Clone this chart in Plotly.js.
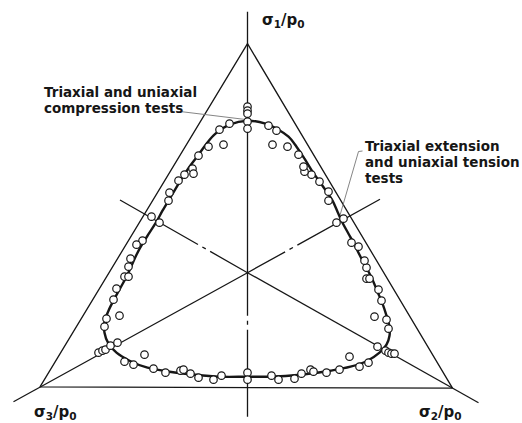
<!DOCTYPE html>
<html>
<head>
<meta charset="utf-8">
<script src="https://cdn.plot.ly/plotly-3.0.1.min.js"></script>
<style>
  html, body { margin: 0; padding: 0; background: #fff; }
  #plot { width: 522px; height: 423px; }
</style>
</head>
<body>
<div id="plot"></div>
<script>
// Octahedral (pi) plane: origin on the hydrostatic axis, y along the sigma1 projection.

// Test results (open circles)
const testX = [
  0, 0, 0, 0, 0,
  -0.18, -0.28, -0.24, -0.39, -0.49, -0.55, -0.54, -0.63, -0.69, -0.78, -0.79,
  -0.96, -0.88, -1.05, -1.11, -1.17, -1.19, -1.23, -1.19, -1.31, -1.34, -1.28, -1.41, -1.43,
  -1.49, -1.45, -1.42, -1.37, -1.30, -1.03, -1.23, -1.14, -0.94, -0.82, -0.67, -0.64, -0.57, -0.49, -0.34, -0.26,
  0, 0,
  0.24, 0.31, 0.47, 0.54, 0.63, 0.66, 0.79, 0.92, 1.02, 1.12, 1.21, 1.30, 1.38, 1.41, 1.44, 1.47,
  1.41, 1.39, 1.27, 1.34, 1.31, 1.19, 1.22, 1.19, 1.17, 1.11, 1.04, 0.96, 0.89,
  0.81, 0.81, 0.72, 0.64, 0.57, 0.56, 0.51, 0.40, 0.25, 0.29, 0.21
];
const testY = [
  1.66, 1.62, 1.59, 1.51, 1.44,
  1.49, 1.43, 1.28, 1.26, 1.17, 1.04, 0.99, 0.98, 0.92, 0.80, 0.72,
  0.56, 0.50, 0.32, 0.28, 0.14, 0.06, -0.04, -0.04, -0.16, -0.27, -0.43, -0.46, -0.54,
  -0.80, -0.78, -0.77, -0.73, -0.70, -0.82, -0.89, -0.92, -0.96, -1.00, -0.98, -0.97, -1.01, -1.05, -1.07, -1.03,
  -1.00, -1.07,
  -1.03, -1.07, -1.06, -1.01, -0.97, -0.99, -1.00, -0.97, -0.84, -0.94, -0.90, -0.74, -0.78, -0.80, -0.81, -0.81,
  -0.56, -0.47, -0.44, -0.28, -0.17, -0.06, -0.06, 0.05, 0.12, 0.26, 0.30, 0.54, 0.50,
  0.72, 0.81, 0.91, 0.98, 1.01, 1.06, 1.18, 1.26, 1.28, 1.42, 1.47
];

// Failure surface trace in the pi plane
const surfX = [
  0, 0.18, 0.31, 0.41, 0.49, 0.57, 0.65, 0.75, 0.85, 0.90, 0.95, 1.01, 1.07, 1.13, 1.19, 1.25,
  1.30, 1.35, 1.39, 1.42, 1.42, 1.39, 1.32, 1.20, 1.03, 0.83, 0.53, 0.23, 0,
  -0.28, -0.53, -0.78, -1.00, -1.18, -1.31, -1.39, -1.43, -1.43, -1.39, -1.33, -1.27, -1.21,
  -1.16, -1.11, -1.05, -0.98, -0.91, -0.85, -0.76, -0.67, -0.58, -0.49, -0.41, -0.32, -0.18, 0
];
const surfY = [
  1.52, 1.49, 1.43, 1.36, 1.26, 1.14, 1.01, 0.87, 0.72, 0.61, 0.50, 0.39, 0.28, 0.16, 0.05, -0.07,
  -0.19, -0.31, -0.43, -0.54, -0.63, -0.72, -0.80, -0.88, -0.94, -0.98, -1.02, -1.04, -1.04,
  -1.04, -1.02, -0.99, -0.95, -0.88, -0.80, -0.71, -0.60, -0.49, -0.38, -0.26, -0.15, -0.04,
  0.07, 0.18, 0.29, 0.40, 0.51, 0.62, 0.77, 0.92, 1.06, 1.18, 1.29, 1.39, 1.48, 1.52
];

// Triangle joining the principal-stress axis tips
const triX = [0, 2.05, -2.075, 0];
const triY = [2.29, -1.155, -1.142, 2.29];

// Principal stress axes (solid) and their negative directions (chain lines)
const axisSolid = [
  { x: [0, 0], y: [0, 2.61] },
  { x: [0, 2.31], y: [0, -1.30] },
  { x: [0, -2.34], y: [0, -1.29] }
];
const axisChain = [
  { x: [0, 0], y: [0, -1.44] },
  { x: [0, -1.275], y: [0, 0.727] },
  { x: [0, 1.325], y: [0, 0.734] }
];

// Leader lines for the notes
const leadCompX = [-0.658, -0.035];
const leadCompY = [1.61, 1.534];
const leadExtX = [1.15, 1.11, 0.92];
const leadExtY = [1.217, 1.212, 0.557];

// Note texts, one entry per line
const noteComp = ['Triaxial and uniaxial', 'compression tests'];
const noteCompY = [1.812, 1.647];
const noteExt = ['Triaxial extension', 'and uniaxial tension', 'tests'];
const noteExtY = [1.267, 1.107, 0.947];

const ink = '#161616';
const traces = [];

traces.push({ x: triX, y: triY, mode: 'lines', line: { color: ink, width: 1.3 }, hoverinfo: 'skip' });
axisSolid.forEach(a => traces.push({ x: a.x, y: a.y, mode: 'lines', line: { color: ink, width: 1.3 }, hoverinfo: 'skip' }));
axisChain.forEach(a => traces.push({ x: a.x, y: a.y, mode: 'lines',
  line: { color: ink, width: 1.3, dash: '43px,5px,4px,5px,400px' }, hoverinfo: 'skip' }));
traces.push({ x: leadCompX, y: leadCompY, mode: 'lines', line: { color: '#777', width: 0.9 }, hoverinfo: 'skip' });
traces.push({ x: leadExtX, y: leadExtY, mode: 'lines', line: { color: '#777', width: 0.9 }, hoverinfo: 'skip' });
traces.push({ x: surfX, y: surfY, mode: 'lines', line: { color: ink, width: 2.4, shape: 'spline', smoothing: 1 }, hoverinfo: 'skip' });
traces.push({ x: testX, y: testY, mode: 'markers',
  marker: { symbol: 'circle', size: 7.5, color: '#fff', line: { color: ink, width: 1.2 } } });

const labelFont = { family: 'DejaVu Sans, sans-serif', size: 13.5, color: ink, weight: 'bold' };
const axisFont = { family: 'DejaVu Sans, sans-serif', size: 15, color: ink, weight: 'bold' };

const annotations = [
  { x: 0.125, y: 2.52, xanchor: 'left', yanchor: 'middle', showarrow: false,
    text: 'σ<sub>1</sub>/p<sub>0</sub>', font: axisFont },
  { x: -2.16, y: -1.40, xanchor: 'left', yanchor: 'middle', showarrow: false,
    text: 'σ<sub>3</sub>/p<sub>0</sub>', font: axisFont },
  { x: 1.69, y: -1.40, xanchor: 'left', yanchor: 'middle', showarrow: false,
    text: 'σ<sub>2</sub>/p<sub>0</sub>', font: axisFont }
];
noteComp.forEach((t, i) => annotations.push({ x: -2.058, y: noteCompY[i], xanchor: 'left', yanchor: 'middle',
  showarrow: false, text: t, font: labelFont }));
noteExt.forEach((t, i) => annotations.push({ x: 1.15, y: noteExtY[i], xanchor: 'left', yanchor: 'middle',
  showarrow: false, text: t, font: labelFont }));

const layout = {
  width: 522, height: 423,
  margin: { l: 0, r: 0, t: 0, b: 0 },
  paper_bgcolor: '#fff', plot_bgcolor: '#fff',
  showlegend: false,
  xaxis: { range: [-2.475, 2.745], visible: false, fixedrange: true },
  yaxis: { range: [-1.503, 2.727], visible: false, fixedrange: true },
  annotations: annotations
};

Plotly.newPlot('plot', traces, layout, { staticPlot: true, displayModeBar: false });
</script>
</body>
</html>
